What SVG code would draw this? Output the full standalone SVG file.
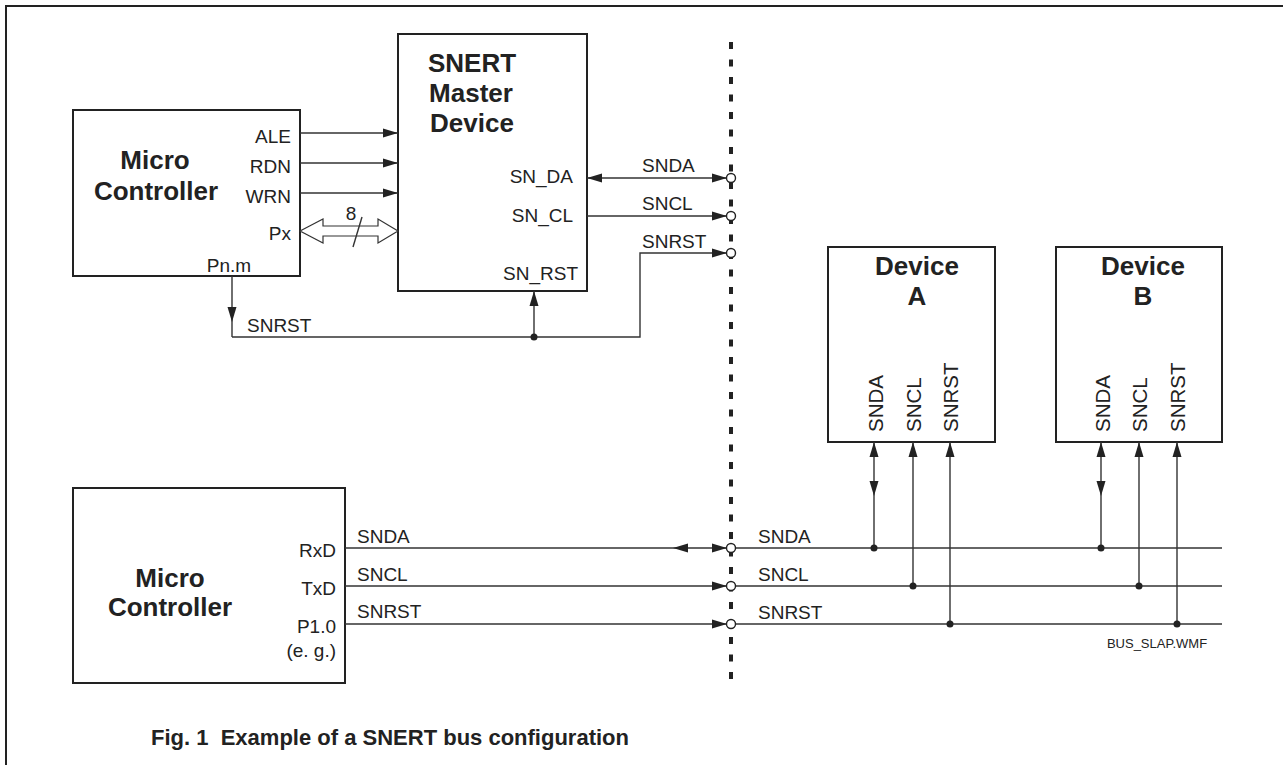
<svg xmlns="http://www.w3.org/2000/svg" width="1283" height="765" viewBox="0 0 1283 765">
<defs>
<style>
.box{fill:#fff;stroke:#222;stroke-width:2}
.ln{fill:none;stroke:#333;stroke-width:1.4}
.t{font-family:"Liberation Sans",Arial,sans-serif;font-size:19px;fill:#222}
.b{font-family:"Liberation Sans",Arial,sans-serif;font-size:26px;font-weight:bold;fill:#222}
.r{text-anchor:end}
.m{text-anchor:middle}
.dot{fill:#222}
.ring{fill:#fff;stroke:#222;stroke-width:1.4}
.ah{fill:#222}
</style>
<marker id="arr" markerUnits="userSpaceOnUse" markerWidth="15" markerHeight="10" refX="15" refY="5" orient="auto-start-reverse" viewBox="0 0 15 10">
<path d="M0,0.5 L15,5 L0,9.5 z" fill="#222"/>
</marker>
</defs>
<path d="M6,765 L6,6 L1283,6" fill="none" stroke="#222" stroke-width="2"/>

<g id="mc-top">
<rect class="box" x="73" y="110" width="227" height="166"/>
<text class="b m" x="155" y="169">Micro</text>
<text class="b m" x="156" y="200">Controller</text>
<text class="t r" x="291" y="143">ALE</text>
<text class="t r" x="291" y="173">RDN</text>
<text class="t r" x="291" y="203">WRN</text>
<text class="t r" x="291" y="240">Px</text>
<text class="t m" x="229" y="272">Pn.m</text>
</g>

<g id="master">
<rect class="box" x="398" y="34" width="189" height="257"/>
<text class="b m" x="472" y="72">SNERT</text>
<text class="b m" x="471" y="102">Master</text>
<text class="b m" x="472" y="132">Device</text>
<text class="t r" x="573" y="183">SN_DA</text>
<text class="t r" x="573" y="222">SN_CL</text>
<text class="t r" x="578" y="280">SN_RST</text>
</g>

<g id="mc-bottom">
<rect class="box" x="73" y="488" width="272" height="195"/>
<text class="b m" x="170" y="587">Micro</text>
<text class="b m" x="170" y="616">Controller</text>
<text class="t r" x="336" y="557">RxD</text>
<text class="t r" x="336" y="595">TxD</text>
<text class="t r" x="336" y="633">P1.0</text>
<text class="t r" x="336" y="657">(e. g.)</text>
</g>

<g id="device-a">
<rect class="box" x="828" y="247" width="167" height="195"/>
<text class="b m" x="917" y="275">Device</text>
<text class="b m" x="917" y="305">A</text>
<text class="t" transform="translate(883,432) rotate(-90)" style="font-size:20.5px">SNDA</text>
<text class="t" transform="translate(921,432) rotate(-90)" style="font-size:20.5px">SNCL</text>
<text class="t" transform="translate(958,432) rotate(-90)" style="font-size:20.5px">SNRST</text>
</g>

<g id="device-b">
<rect class="box" x="1056" y="247" width="166" height="195"/>
<text class="b m" x="1143" y="275">Device</text>
<text class="b m" x="1143" y="305">B</text>
<text class="t" transform="translate(1110,432) rotate(-90)" style="font-size:20.5px">SNDA</text>
<text class="t" transform="translate(1147,432) rotate(-90)" style="font-size:20.5px">SNCL</text>
<text class="t" transform="translate(1185,432) rotate(-90)" style="font-size:20.5px">SNRST</text>
</g>

<g id="connectors">
<line x1="731" y1="42" x2="731" y2="686" stroke="#222" stroke-width="4" stroke-dasharray="7 10.5"/>

<line class="ln" x1="300" y1="133" x2="398" y2="133" marker-end="url(#arr)"/>
<line class="ln" x1="300" y1="163" x2="398" y2="163" marker-end="url(#arr)"/>
<line class="ln" x1="300" y1="193" x2="398" y2="193" marker-end="url(#arr)"/>

<path d="M300,231 L323,219 L323,226 L378,226 L378,219 L398,231 L378,243 L378,236 L323,236 L323,243 Z" fill="#fff" stroke="#333" stroke-width="1.2"/>
<line class="ln" x1="362" y1="217" x2="353" y2="247"/>
<text class="t m" x="351" y="220">8</text>

<line class="ln" x1="232" y1="276" x2="232" y2="337"/>
<polygon class="ah" points="232,322 227.5,307 236.5,307"/>
<text class="t" x="247" y="332">SNRST</text>
<path class="ln" d="M232,337 L640,337 L640,253 L727,253" marker-end="url(#arr)"/>
<line class="ln" x1="534" y1="337" x2="534" y2="291" marker-end="url(#arr)"/>
<circle class="dot" cx="534" cy="337" r="3.5"/>

<line class="ln" x1="587" y1="178" x2="727" y2="178" marker-start="url(#arr)" marker-end="url(#arr)"/>
<line class="ln" x1="587" y1="216" x2="727" y2="216" marker-end="url(#arr)"/>
<text class="t" x="642" y="172">SNDA</text>
<text class="t" x="642" y="210">SNCL</text>
<text class="t" x="642" y="248">SNRST</text>

<line class="ln" x1="345" y1="548" x2="727" y2="548" marker-end="url(#arr)"/>
<polygon class="ah" points="673,548 688,543.5 688,552.5"/>
<line class="ln" x1="345" y1="586" x2="727" y2="586" marker-end="url(#arr)"/>
<line class="ln" x1="345" y1="624" x2="727" y2="624" marker-end="url(#arr)"/>
<text class="t" x="357" y="543">SNDA</text>
<text class="t" x="357" y="581">SNCL</text>
<text class="t" x="357" y="618">SNRST</text>

<line class="ln" x1="735" y1="548" x2="1222" y2="548"/>
<line class="ln" x1="735" y1="586" x2="1222" y2="586"/>
<line class="ln" x1="735" y1="624" x2="1222" y2="624"/>
<text class="t" x="758" y="543">SNDA</text>
<text class="t" x="758" y="581">SNCL</text>
<text class="t" x="758" y="619">SNRST</text>

<circle class="ring" cx="731" cy="178" r="4.5"/>
<circle class="ring" cx="731" cy="216" r="4.5"/>
<circle class="ring" cx="731" cy="253" r="4.5"/>
<circle class="ring" cx="731" cy="548" r="4.5"/>
<circle class="ring" cx="731" cy="586" r="4.5"/>
<circle class="ring" cx="731" cy="624" r="4.5"/>

<line class="ln" x1="874" y1="548" x2="874" y2="442" marker-end="url(#arr)"/>
<polygon class="ah" points="874,496 869.5,481 878.5,481"/>
<line class="ln" x1="913" y1="586" x2="913" y2="442" marker-end="url(#arr)"/>
<line class="ln" x1="950" y1="624" x2="950" y2="442" marker-end="url(#arr)"/>
<circle class="dot" cx="874" cy="548" r="3.5"/>
<circle class="dot" cx="913" cy="586" r="3.5"/>
<circle class="dot" cx="950" cy="624" r="3.5"/>

<line class="ln" x1="1101" y1="548" x2="1101" y2="442" marker-end="url(#arr)"/>
<polygon class="ah" points="1101,496 1096.5,481 1105.5,481"/>
<line class="ln" x1="1139" y1="586" x2="1139" y2="442" marker-end="url(#arr)"/>
<line class="ln" x1="1177" y1="624" x2="1177" y2="442" marker-end="url(#arr)"/>
<circle class="dot" cx="1101" cy="548" r="3.5"/>
<circle class="dot" cx="1139" cy="586" r="3.5"/>
<circle class="dot" cx="1177" cy="624" r="3.5"/>
</g>

<text x="1157" y="648" text-anchor="middle" style="font-family:'Liberation Sans',Arial,sans-serif;font-size:13px;fill:#222">BUS_SLAP.WMF</text>
<text x="390" y="745" text-anchor="middle" style="font-family:'Liberation Sans',Arial,sans-serif;font-size:22px;font-weight:bold;fill:#222">Fig. 1&#160; Example of a SNERT bus configuration</text>
</svg>
